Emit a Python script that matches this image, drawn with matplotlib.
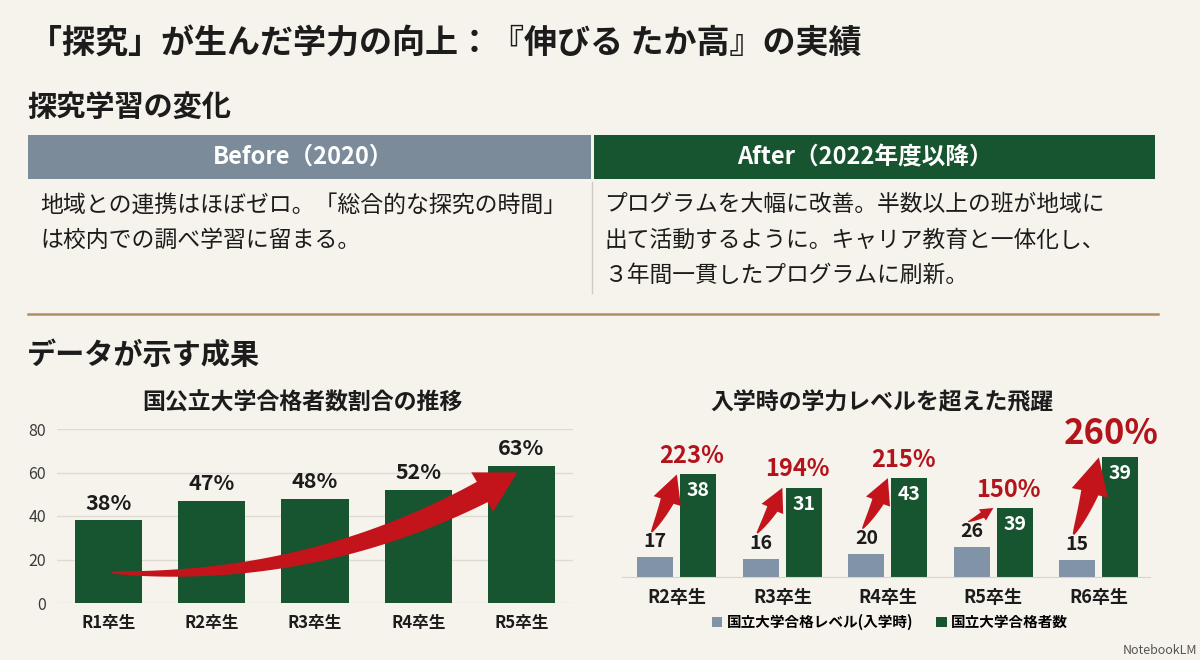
"""Infographic: inquiry-based learning and national-university pass rates."""

import matplotlib

matplotlib.use("Agg")
import matplotlib.pyplot as plt
import numpy as np
from matplotlib.lines import Line2D
from matplotlib.patches import Polygon, Rectangle

W, H = 1200, 660
BG = "#F6F3EC"
GREEN = "#16552F"
SLATE = "#7C8B9A"
LEVEL_GRAY = "#8193A6"
RED = "#B3141C"
ARROW_RED = "#C3141C"
INK = "#1C1C1C"

# ---- text content ----
TITLE = "「探究」が生んだ学力の向上：『伸びる たか高』の実績"
SECTION_CHANGE = "探究学習の変化"
SECTION_DATA = "データが示す成果"
BEFORE_HEAD = "Before（2020）"
AFTER_HEAD = "After（2022年度以降）"
BEFORE_LINES = [
    "地域との連携はほぼゼロ。「総合的な探究の時間」",
    "は校内での調べ学習に留まる。",
]
AFTER_LINES = [
    "プログラムを大幅に改善。半数以上の班が地域に",
    "出て活動するように。キャリア教育と一体化し、",
    "３年間一貫したプログラムに刷新。",
]

# ---- left chart: share of national/public university passers ----
SHARE_TITLE = "国公立大学合格者数割合の推移"
share_years = ["R1卒生", "R2卒生", "R3卒生", "R4卒生", "R5卒生"]
share_pct = [38, 47, 48, 52, 63]
share_yticks = [0, 20, 40, 60, 80]

# ---- right chart: leap beyond entry level ----
LEAP_TITLE = "入学時の学力レベルを超えた飛躍"
leap_years = ["R2卒生", "R3卒生", "R4卒生", "R5卒生", "R6卒生"]
entry_level = [17, 16, 20, 26, 15]
passed = [38, 31, 43, 39, 39]
growth_pct = [223, 194, 215, 150, 260]
legend_labels = ["国立大学合格レベル(入学時)", "国立大学合格者数"]

# the green bars are drawn on the growth-% scale, the entry bars scaled onto it
LEVEL_SCALE = 2.5

plt.rcParams["font.family"] = ["Noto Sans CJK JP", "DejaVu Sans"]
plt.rcParams["axes.unicode_minus"] = False


def fx(x):
    return x / W


def fy(y):
    return 1 - y / H


def put(fig, x, y, s, **kw):
    kw.setdefault("va", "center")
    kw.setdefault("color", INK)
    fig.text(fx(x), fy(y), s, **kw)


def tapered_arrow(ax, p0, p1, bend, head_len, head_w, body_w, color, zorder=3):
    """Curved arrow with a pointed tail that widens toward a triangular head (sizes in px)."""
    a = ax.transData.transform(p0)
    b = ax.transData.transform(p1)
    d = b - a
    c = (a + b) / 2 + bend * np.array([d[1], -d[0]])
    t = np.linspace(0, 1, 400)
    curve = ((1 - t) ** 2)[:, None] * a + (2 * (1 - t) * t)[:, None] * c + (t ** 2)[:, None] * b
    dist = np.hypot(*(curve - b).T)
    i_head = int(np.argmax(dist <= head_len))
    body = curve[: i_head + 1]
    tang = np.gradient(body, axis=0)
    tang /= np.hypot(*tang.T)[:, None]
    normal = np.column_stack([-tang[:, 1], tang[:, 0]])
    frac = np.linspace(0, 1, len(body))
    w = (0.08 + 0.92 * frac ** 0.75) * body_w / 2
    left = body + normal * w[:, None]
    right = body - normal * w[:, None]
    base = body[-1]
    u = (b - base) / np.hypot(*(b - base))
    n = np.array([-u[1], u[0]])
    pts = np.vstack([left, base + n * head_w / 2, b, base - n * head_w / 2, right[::-1]])
    pts = ax.transData.inverted().transform(pts)
    ax.add_patch(Polygon(pts, closed=True, color=color, lw=0, zorder=zorder, clip_on=False))


fig = plt.figure(figsize=(W / 100, H / 100), dpi=100, facecolor=BG)

# ---- header / table ----
put(fig, 29, 44, TITLE, fontsize=23.8, fontweight="bold")
put(fig, 27, 107, SECTION_CHANGE, fontsize=21, fontweight="bold")

fig.add_artist(Rectangle((fx(28), fy(179)), (591 - 28) / W, 44 / H,
                         transform=fig.transFigure, color=SLATE, lw=0))
fig.add_artist(Rectangle((fx(594), fy(179)), (1155 - 594) / W, 44 / H,
                         transform=fig.transFigure, color=GREEN, lw=0))
put(fig, 303, 157, BEFORE_HEAD, fontsize=17, fontweight="bold", color="white", ha="center")
put(fig, 865, 157, AFTER_HEAD, fontsize=17, fontweight="bold", color="white", ha="center")

for i, line in enumerate(BEFORE_LINES):
    put(fig, 40, 205 + 35 * i, line, fontsize=16.5)
for i, line in enumerate(AFTER_LINES):
    put(fig, 604, 205 + 35 * i, line, fontsize=16.4)

fig.add_artist(Line2D([fx(592), fx(592)], [fy(182), fy(293)], transform=fig.transFigure,
                      color="#CFCBC3", lw=1))
fig.add_artist(Line2D([fx(28), fx(1158)], [fy(314), fy(314)], transform=fig.transFigure,
                      color="#B08D62", lw=1.8))

put(fig, 27, 355, SECTION_DATA, fontsize=21, fontweight="bold")

# ---- left chart ----
put(fig, 302, 403, SHARE_TITLE, fontsize=16.5, fontweight="bold", ha="center")
ax1 = fig.add_axes([fx(57), fy(603), (573 - 57) / W, (603 - 429) / H])
ax1.set_facecolor("none")
x1 = np.arange(len(share_years))
ax1.bar(x1, share_pct, width=0.65, color=GREEN, zorder=2)
for xi, v in zip(x1, share_pct):
    ax1.text(xi, v + 3, f"{v}%", ha="center", va="bottom", fontsize=15.5,
             fontweight="bold", color=INK, zorder=4)
ax1.set_xlim(-0.5, 4.5)
ax1.set_ylim(0, 80)
ax1.set_yticks(share_yticks)
ax1.set_xticks(x1)
ax1.set_xticklabels(share_years, fontsize=12, fontweight="bold", color=INK)
ax1.tick_params(axis="y", length=0, pad=8, labelsize=11.5, labelcolor="#3A3A3A")
ax1.tick_params(axis="x", length=0, pad=8)
ax1.grid(axis="y", color="#DFDBD3", lw=1, zorder=0)
for s in ax1.spines.values():
    s.set_visible(False)

# rising trend from the first bar to the last one
tapered_arrow(ax1, (x1[0] + 0.03, 14), (x1[-1] - 0.04, share_pct[-1] - 3), bend=0.15,
              head_len=41, head_w=45, body_w=23, color=ARROW_RED)

# ---- right chart ----
put(fig, 882, 403, LEAP_TITLE, fontsize=16.5, fontweight="bold", ha="center")
ax2 = fig.add_axes([fx(622), fy(577), 527.5 / W, 138 / H])
ax2.set_facecolor("none")
x2 = np.arange(len(leap_years))
off, bw = 0.204, 0.34
level_h = np.array(entry_level) * LEVEL_SCALE
b_level = ax2.bar(x2 - off, level_h, width=bw, color=LEVEL_GRAY, zorder=2)
b_pass = ax2.bar(x2 + off, growth_pct, width=bw, color=GREEN, zorder=2)
ax2.set_xlim(-0.52, 4.48)
ax2.set_ylim(0, 300)
ax2.set_yticks([])
ax2.set_xticks(x2)
ax2.set_xticklabels(leap_years, fontsize=13, fontweight="bold", color=INK)
ax2.tick_params(axis="x", length=0, pad=8)
for name, s in ax2.spines.items():
    s.set_visible(name == "bottom")
ax2.spines["bottom"].set_color("#D8D4CC")

top_growth = max(growth_pct)
for xi, lv, lh, n, g in zip(x2, entry_level, level_h, passed, growth_pct):
    ax2.text(xi - off, lh + 13, str(lv), ha="center", va="bottom", fontsize=14,
             fontweight="bold", color=INK, zorder=4)
    ax2.text(xi + off, g - 15, str(n), ha="center", va="top", fontsize=14,
             fontweight="bold", color="white", zorder=4)
    fs = 25 if g == top_growth else 17
    ax2.text(xi + off - 0.06 * fs / 17, g + 14, f"{g}%", ha="center", va="bottom",
             fontsize=fs, fontweight="bold", color=RED, zorder=4)
    p0, p1 = (xi - 0.24, lh + 55), (xi, g)
    a, b = ax2.transData.transform(p0), ax2.transData.transform(p1)
    L = float(np.hypot(*(b - a)))
    tapered_arrow(ax2, p0, p1, bend=0.06, head_len=0.45 * L, head_w=0.46 * L,
                  body_w=0.22 * L, color=ARROW_RED)

fig.legend([b_level, b_pass], legend_labels, loc="center", bbox_to_anchor=(fx(890), fy(622)),
           ncol=2, frameon=False, prop={"size": 10.5, "weight": "bold"},
           handlelength=0.7, handleheight=0.7, handletextpad=0.3, columnspacing=1.6)

put(fig, 1197, 650, "NotebookLM", fontsize=9, color="#555555", ha="right")

fig.savefig("out.png", dpi=100, facecolor=BG)
